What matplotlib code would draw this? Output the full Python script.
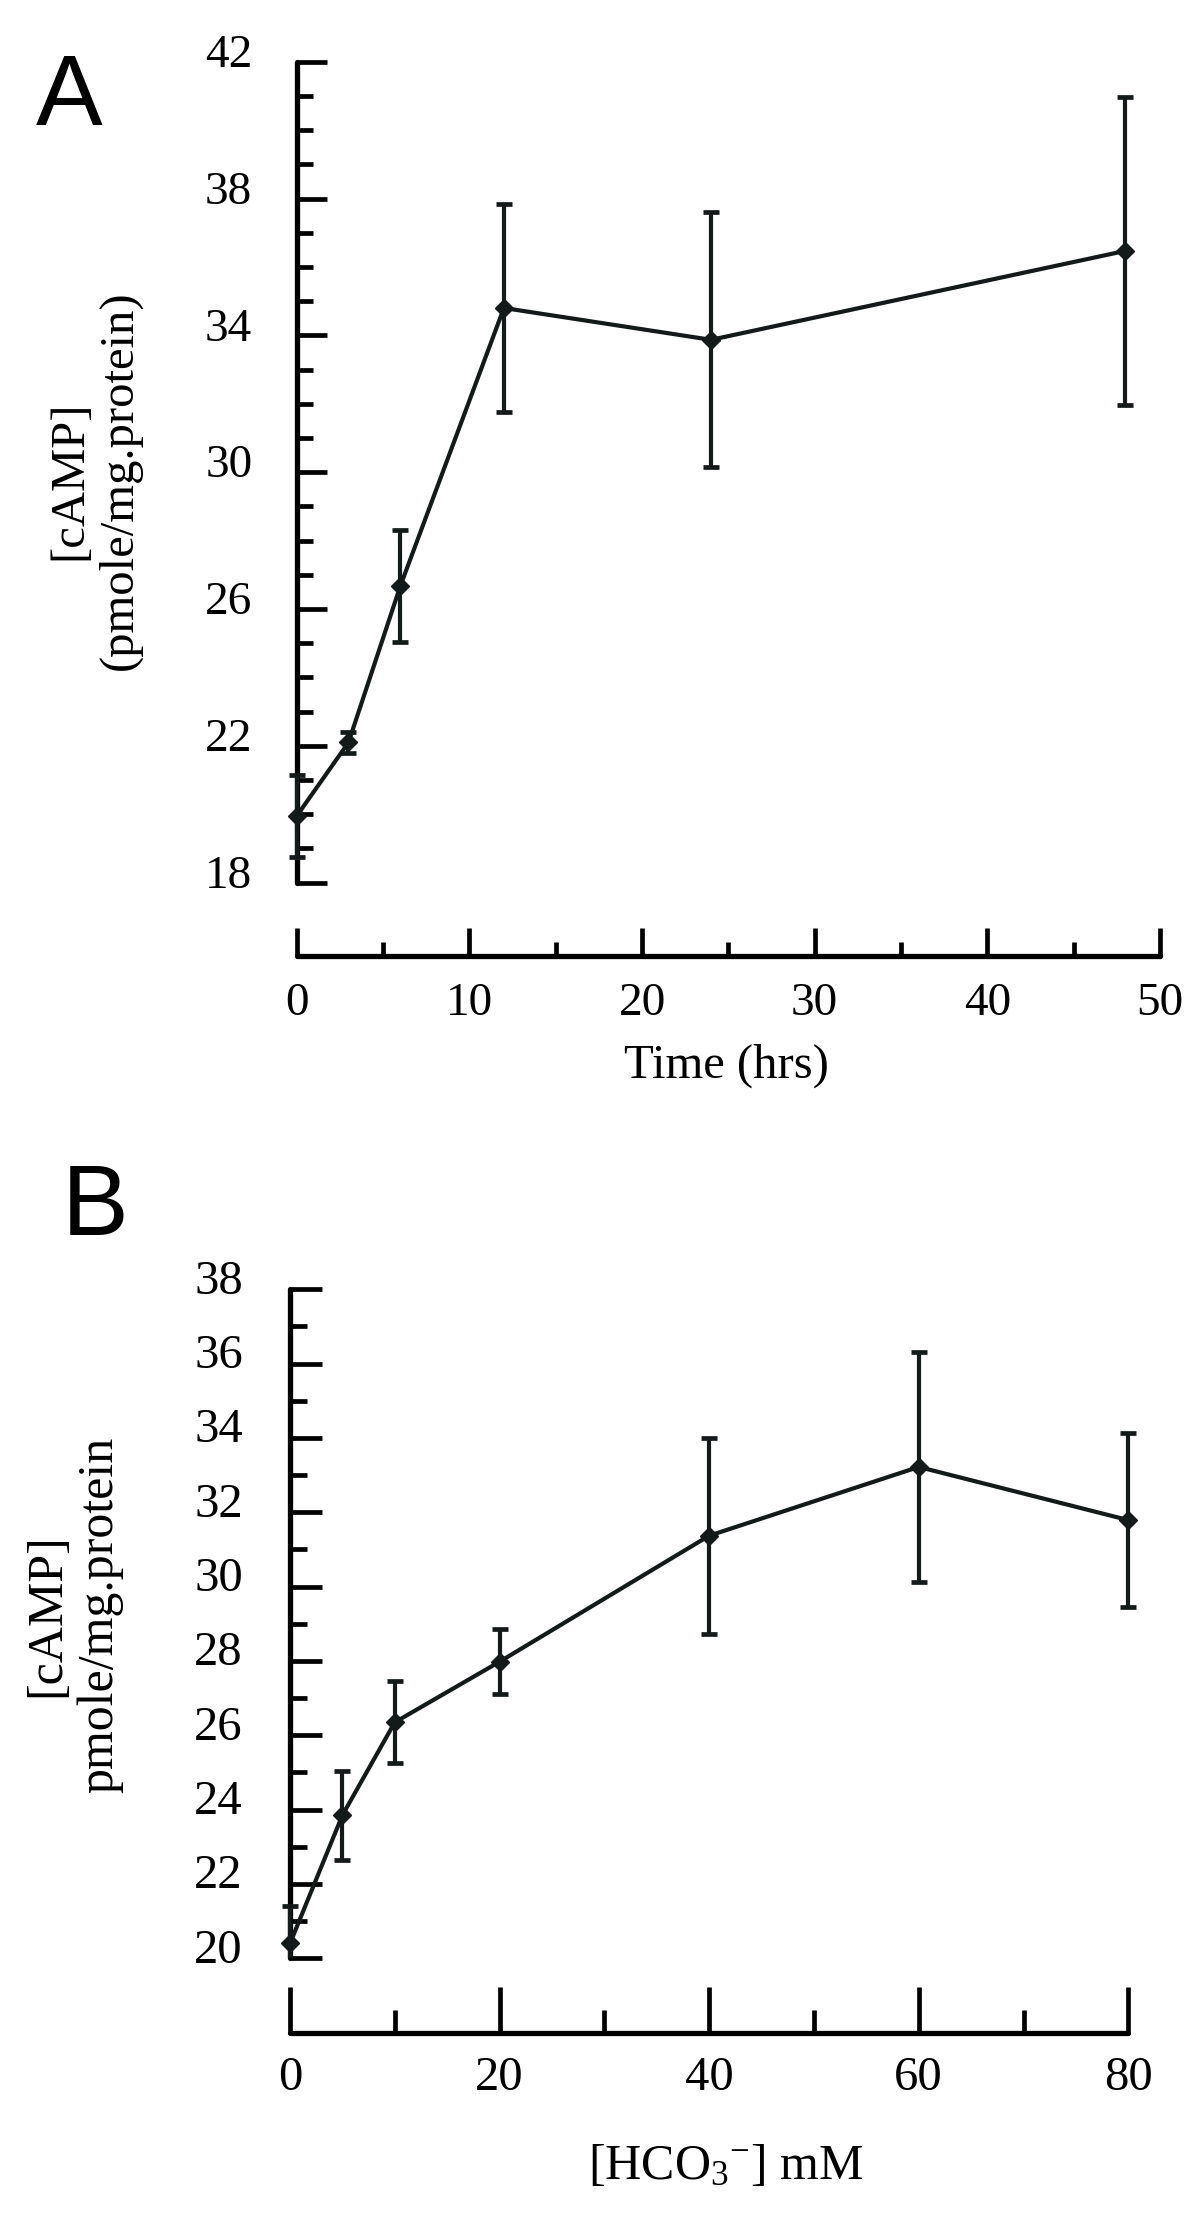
import matplotlib
matplotlib.use("Agg")
import matplotlib.pyplot as plt
from matplotlib.patches import Rectangle
from matplotlib.transforms import ScaledTranslation, blended_transform_factory

plt.rcParams['font.family'] = ['Liberation Serif', 'DejaVu Serif']
plt.rcParams['mathtext.fontset'] = 'custom'
plt.rcParams['mathtext.rm'] = 'Liberation Serif'
plt.rcParams['mathtext.it'] = 'Liberation Serif:italic'

# panel A: cAMP vs time
time_hrs = [0, 3, 6, 12, 24, 48]
camp_time = [19.95, 22.1, 26.67, 34.8, 33.87, 36.47]
err_time = [1.2, 0.3, 1.64, 3.03, 3.73, 4.5]

# panel B: cAMP vs bicarbonate
hco3_mM = [0, 5, 10, 20, 40, 60, 80]
camp_hco3 = [20.4, 23.85, 26.35, 27.98, 31.37, 33.22, 31.79]
err_hco3 = [1.02, 1.2, 1.1, 0.87, 2.64, 3.1, 2.35]

ink = '#141a1a'
W, H = 1197, 2223
fig = plt.figure(figsize=(W / 100, H / 100), dpi=100)


def draw_panel(rect, x, y, err, xlim, ylim, xmaj, xmin, ymaj, ymin, ticksize,
               xtick_len, ytick_len, ypad, xpad, yshift, spine_off):
    ax = fig.add_axes(rect)
    cont = ax.errorbar(x, y, yerr=err, color=ink, lw=3.0, marker='D', ms=9,
                       elinewidth=3.0, capsize=6, capthick=3.4, zorder=3)
    # clip only vertically (caps at x=0 may hang left of the axis)
    clip = Rectangle((-0.1, ylim[0]), 1.2, ylim[1] - ylim[0], facecolor='none',
                     transform=blended_transform_factory(ax.transAxes, ax.transData))
    for art in [cont.lines[0], *cont.lines[1], *cont.lines[2]]:
        art.set_clip_path(clip)

    ax.set_xlim(*xlim)
    ax.set_ylim(*ylim)
    ax.set_xticks(xmaj)
    ax.set_xticks(xmin, minor=True)
    ax.set_yticks(ymaj)
    ax.set_yticks(ymin, minor=True)

    for s in ['top', 'right']:
        ax.spines[s].set_visible(False)
    for s in ['left', 'bottom']:
        ax.spines[s].set_linewidth(3.8)
        ax.spines[s].set_color('black')
        ax.spines[s].set_capstyle('round')
    ax.spines['bottom'].set_position(('outward', spine_off))

    ax.tick_params(axis='both', which='both', direction='in', width=3.4, color='black')
    ax.tick_params(axis='y', which='major', length=ytick_len[0], pad=ypad, labelsize=ticksize)
    ax.tick_params(axis='y', which='minor', length=ytick_len[1])
    ax.tick_params(axis='x', which='major', length=xtick_len[0], pad=xpad, labelsize=ticksize)
    ax.tick_params(axis='x', which='minor', length=xtick_len[1])

    shift = ScaledTranslation(0, yshift / 72, fig.dpi_scale_trans)
    for t in ax.yaxis.get_major_ticks():
        t.label1.set_transform(t.label1.get_transform() + shift)
    return ax


# ---- A ----
axA = draw_panel([296.7 / W, 1 - 882.7 / H, 863.3 / W, 821 / H],
                 time_hrs, camp_time, err_time,
                 (0, 50), (18, 42), range(0, 51, 10), range(5, 50, 10),
                 range(18, 43, 4), [v for v in range(18, 43) if (v - 18) % 4],
                 34, (20, 10), (21.6, 11.7), 32, 19, 8, 53)
axA.set_xlabel('Time (hrs)', fontsize=35, va='center')
axA.xaxis.set_label_coords((726 - 296.7) / 863.3, (882.7 - 1066) / 821)
axA.set_ylabel('[cAMP]\n(pmole/mg.protein)', fontsize=35, va='center', linespacing=1.2)
axA.yaxis.set_label_coords((94.5 - 296.7) / 863.3, (882.7 - 480) / 821)

# ---- B ----
axB = draw_panel([290 / W, 1 - 1958.3 / H, 838.3 / W, 669 / H],
                 hco3_mM, camp_hco3, err_hco3,
                 (0, 80), (20, 38), range(0, 81, 20), range(10, 80, 20),
                 range(20, 39, 2), range(21, 38, 2),
                 35, (33, 16.5), (23, 12), 34, 16.5, 9, 54)
axB.set_xlabel('[HCO$_{3}$$^{-}$] mM', fontsize=36, va='center')
axB.xaxis.set_label_coords((726 - 290) / 838.3, (1958.3 - 2167) / 669)
axB.set_ylabel('[cAMP]\npmole/mg.protein', fontsize=36, va='center', linespacing=1.2)
axB.yaxis.set_label_coords((73.5 - 290) / 838.3, (1958.3 - 1615) / 669)

fig.text(36 / W, 1 - 125 / H, 'A', family='Liberation Sans', fontsize=72,
         va='baseline', ha='left')
fig.text(62 / W, 1 - 1235 / H, 'B', family='Liberation Sans', fontsize=72,
         va='baseline', ha='left')

fig.savefig('out.png', dpi=100)
